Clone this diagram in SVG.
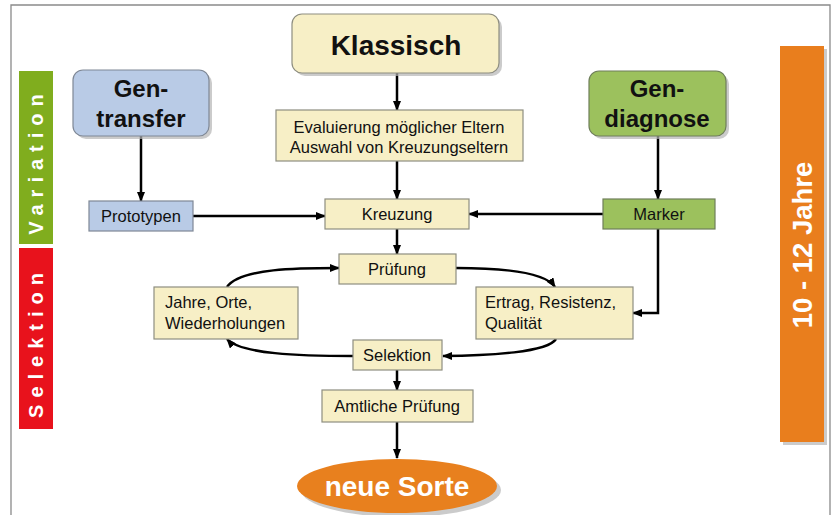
<svg xmlns="http://www.w3.org/2000/svg" width="832" height="515" viewBox="0 0 832 515">
<defs>
<marker id="ah" markerUnits="userSpaceOnUse" markerWidth="10" markerHeight="8" refX="9" refY="4" orient="auto">
<path d="M0,0 L10,4 L0,8 z" fill="#000"/>
</marker>
<style>
.yel{fill:#f7efc6;stroke:#8e8e80;stroke-width:1.2}
.blu{fill:#b9cbe6;stroke:#7f8896;stroke-width:1.2}
.grn{fill:#9cc15d;stroke:#6f7f5a;stroke-width:1.2}
.shd{fill:#b5b5b5;opacity:0.7}
.t{font-family:"Liberation Sans",Arial,sans-serif;font-size:16.5px;fill:#111}
.tc{text-anchor:middle}
.big{font-family:"Liberation Sans",Arial,sans-serif;font-weight:bold;font-size:24px;fill:#111;text-anchor:middle}
.bar{font-family:"Liberation Sans",Arial,sans-serif;font-weight:bold;font-size:20px;fill:#fff;text-anchor:middle;letter-spacing:7px}
.c{fill:none;stroke:#000;stroke-width:2.5;marker-end:url(#ah)}
</style>
</defs>
<rect x="0" y="0" width="832" height="515" fill="#fff"/>
<path d="M11,520 L11,5 L830,5 L830,520" fill="none" stroke="#8a8a8a" stroke-width="1.3"/>

<g id="variation">
<rect x="19" y="71" width="34" height="173" fill="#80ad1e"/>
<text class="bar" transform="translate(43,161) rotate(-90)">Variation</text>
</g>
<g id="selektion-bar">
<rect x="19" y="248" width="34" height="181" fill="#e8121c"/>
<text class="bar" transform="translate(43,342) rotate(-90)">Selektion</text>
</g>
<g id="jahre-bar">
<rect x="783" y="49" width="44" height="396" class="shd"/>
<rect x="780" y="46" width="44" height="396" fill="#e97e1d"/>
<text transform="translate(812,245) rotate(-90)" font-family="Liberation Sans,Arial,sans-serif" font-weight="bold" font-size="27.5" fill="#fff" text-anchor="middle">10 - 12 Jahre</text>
</g>

<g id="connectors">
<path class="c" d="M397,73 L397,110"/>
<path class="c" d="M397,161 L397,199" stroke-width="3"/>
<path class="c" d="M141,136 L141,201"/>
<path class="c" d="M193,216 L325,216"/>
<path class="c" d="M658,136 L658,199"/>
<path class="c" d="M603,214 L469,214"/>
<path class="c" d="M658,229 L658,313 L633,313"/>
<path class="c" d="M397,229 L397,254"/>
<path class="c" d="M227,287 C240,268 300,268 339,268"/>
<path class="c" d="M456,268 C500,268 545,272 555,287"/>
<path class="c" d="M556,339 C548,352 490,356 443,356"/>
<path class="c" d="M353,356 C300,356 240,354 227,339"/>
<path class="c" d="M397,370 L397,390"/>
<path class="c" d="M397,422 L397,458"/>
</g>

<g id="klassisch">
<rect x="295" y="17" width="207" height="59" rx="10" class="shd"/>
<rect x="292" y="14" width="207" height="59" rx="10" class="yel"/>
<text x="396" y="55" font-family="Liberation Sans,Arial,sans-serif" font-weight="bold" font-size="28" fill="#111" text-anchor="middle">Klassisch</text>
</g>
<g id="gentransfer">
<rect x="76" y="73" width="136" height="66" rx="10" class="shd"/>
<rect x="73" y="70" width="136" height="66" rx="10" class="blu"/>
<text class="big" x="141" y="97">Gen-</text>
<text class="big" x="141" y="127">transfer</text>
</g>
<g id="gendiagnose">
<rect x="592" y="74" width="137" height="65" rx="10" class="shd"/>
<rect x="589" y="71" width="137" height="65" rx="10" class="grn"/>
<text class="big" x="657" y="97">Gen-</text>
<text class="big" x="657" y="127">diagnose</text>
</g>
<g id="evaluierung">
<rect x="276" y="110" width="247" height="51" class="yel"/>
<text class="t tc" x="399" y="133">Evaluierung möglicher Eltern</text>
<text class="t tc" x="399" y="153">Auswahl von Kreuzungseltern</text>
</g>
<g id="kreuzung">
<rect x="325" y="199" width="144" height="30" class="yel"/>
<text class="t tc" x="397" y="220">Kreuzung</text>
</g>
<g id="prototypen">
<rect x="89" y="201" width="104" height="30" class="blu"/>
<text class="t tc" x="141" y="222">Prototypen</text>
</g>
<g id="marker">
<rect x="603" y="199" width="112" height="30" class="grn"/>
<text class="t tc" x="659" y="220">Marker</text>
</g>
<g id="pruefung">
<rect x="339" y="254" width="117" height="30" class="yel"/>
<text class="t tc" x="397" y="275">Prüfung</text>
</g>
<g id="jahre">
<rect x="154" y="287" width="144" height="52" class="yel"/>
<text class="t" x="165" y="308">Jahre, Orte,</text>
<text class="t" x="165" y="329">Wiederholungen</text>
</g>
<g id="ertrag">
<rect x="476" y="287" width="157" height="52" class="yel"/>
<text class="t" x="485" y="308">Ertrag, Resistenz,</text>
<text class="t" x="485" y="329">Qualität</text>
</g>
<g id="selektion">
<rect x="353" y="340" width="89" height="30" class="yel"/>
<text class="t tc" x="397" y="361">Selektion</text>
</g>
<g id="amtliche">
<rect x="322" y="390" width="151" height="32" class="yel"/>
<text class="t tc" x="397" y="412">Amtliche Prüfung</text>
</g>
<g id="neuesorte">
<ellipse cx="401" cy="490" rx="100" ry="27" class="shd"/>
<ellipse cx="397" cy="486" rx="100" ry="27" fill="#e8801e"/>
<text x="397" y="496" font-family="Liberation Sans,Arial,sans-serif" font-weight="bold" font-size="28" fill="#fff" text-anchor="middle">neue Sorte</text>
</g>
</svg>
